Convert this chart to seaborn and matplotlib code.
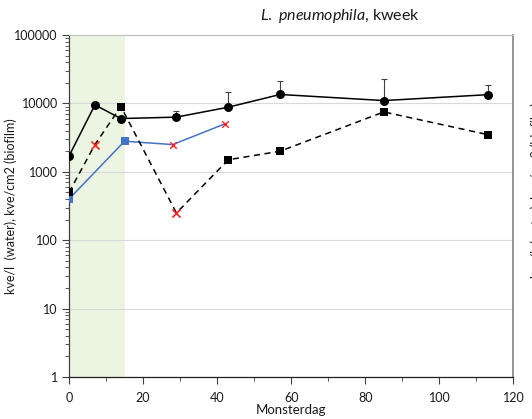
import numpy as np
import pandas as pd
import matplotlib
matplotlib.use("Agg")
import matplotlib.pyplot as plt
from matplotlib.ticker import FixedLocator, FuncFormatter, LogLocator, MultipleLocator, NullFormatter
import seaborn as sns

# --- data -------------------------------------------------------------
# total count, with upward standard deviation
dag_totaal = [0, 7, 14, 29, 43, 57, 85, 113]
kve_totaal = [1700, 9500, 6000, 6300, 8800, 13500, 11000, 13400]
sd_totaal = [np.nan, np.nan, np.nan, 1500, 6000, 8000, 11500, 5400]

# dashed series (squares; x = below detection limit)
dag_gestippeld = [0, 7, 14, 29, 43, 57, 85, 113]
kve_gestippeld = [500, 2500, 9000, 250, 1500, 2000, 7500, 3500]
teken_gestippeld = ["sq", "x", "sq", "x", "sq", "sq", "sq", "sq"]

# blue series
dag_blauw = [0, 15, 28, 42]
kve_blauw = [400, 2800, 2500, 5000]
teken_blauw = ["sq", "sq", "x", "x"]

# shaded start-up period
periode = (0, 15)

x_ticks = [0, 20, 40, 60, 80, 100, 120]
y_ticks = [1, 10, 100, 1000, 10000, 100000]

titel_cursief = "L.\\ pneumophila"
titel_rest = ", kweek"
x_label = "Monsterdag"
y_label = "kve/l  (water), kve/cm2 (biofilm)"

# --- style ------------------------------------------------------------
sns.set_style("white")
plt.rcParams["font.family"] = ["Lato", "DejaVu Sans"]
plt.rcParams["mathtext.fontset"] = "custom"
plt.rcParams["mathtext.it"] = "Lato:italic"
plt.rcParams["mathtext.rm"] = "Lato"

BLAUW = "#4472C4"
ROOD = "#FF2020"
TXT = "#1A1A1A"

fig = plt.figure(figsize=(5.32, 4.19), dpi=100)
ax_left, ax_right, ax_bottom, ax_top = 0.1297, 0.9652, 0.1002, 0.9165
ax = fig.add_axes([ax_left, ax_bottom, ax_right - ax_left, ax_top - ax_bottom])

ax.axvspan(*periode, color="#EBF5E1", zorder=0, lw=0)

df_tot = pd.DataFrame({"dag": dag_totaal, "kve": kve_totaal, "sd": sd_totaal})
df_stip = pd.DataFrame({"dag": dag_gestippeld, "kve": kve_gestippeld, "teken": teken_gestippeld})
df_blauw = pd.DataFrame({"dag": dag_blauw, "kve": kve_blauw, "teken": teken_blauw})

# lines
sns.lineplot(data=df_blauw, x="dag", y="kve", color=BLAUW, lw=1.1, ax=ax, zorder=3)
sns.lineplot(data=df_stip, x="dag", y="kve", color="black", lw=1.1, ax=ax, zorder=3)
ax.lines[-1].set_dashes((4, 3))
sns.lineplot(data=df_tot, x="dag", y="kve", color="black", lw=1.1, ax=ax, zorder=4)

# error bars (upward only)
m = df_tot["sd"].notna()
ax.errorbar(df_tot.loc[m, "dag"], df_tot.loc[m, "kve"],
            yerr=[np.zeros(m.sum()), df_tot.loc[m, "sd"]],
            fmt="none", ecolor="#404040", elinewidth=0.8, capsize=2.5, capthick=0.8, zorder=3)

# markers
sq = df_blauw[df_blauw["teken"] == "sq"]
xx = df_blauw[df_blauw["teken"] == "x"]
sns.scatterplot(data=sq, x="dag", y="kve", marker="s", color=BLAUW, s=28,
                linewidth=0, ax=ax, zorder=5)
sns.scatterplot(data=xx, x="dag", y="kve", marker="x", color=ROOD, s=22,
                linewidth=1.0, ax=ax, zorder=5)
sq = df_stip[df_stip["teken"] == "sq"]
xx = df_stip[df_stip["teken"] == "x"]
sns.scatterplot(data=sq, x="dag", y="kve", marker="s", color="black", s=40,
                linewidth=0, ax=ax, zorder=5)
sns.scatterplot(data=xx, x="dag", y="kve", marker="x", color=ROOD, s=34,
                linewidth=1.2, ax=ax, zorder=5)
sns.scatterplot(data=df_tot, x="dag", y="kve", marker="o", color="black", s=42,
                linewidth=0, ax=ax, zorder=6)

# axes
ax.set_yscale("log")
ax.set_ylim(1, 100000)
ax.set_xlim(0, 120)
ax.yaxis.set_major_locator(FixedLocator(y_ticks))
ax.yaxis.set_major_formatter(FuncFormatter(lambda v, p: f"{int(round(v))}"))
ax.yaxis.set_minor_locator(LogLocator(base=10, subs=np.arange(2, 10)))
ax.yaxis.set_minor_formatter(NullFormatter())
ax.xaxis.set_major_locator(FixedLocator(x_ticks))
ax.xaxis.set_minor_locator(MultipleLocator(10))

ax.grid(axis="y", which="major", color="#D9D9D9", lw=0.8, zorder=1)
ax.set_axisbelow(True)

ax.tick_params(axis="both", which="major", direction="out", length=5, width=0.8,
               color="#404040", labelsize=9, labelcolor=TXT, pad=3,
               left=True, bottom=True)
ax.tick_params(axis="both", which="minor", direction="out", length=3, width=0.6,
               color="#404040", left=True, bottom=True)
ax.tick_params(axis="x", which="major", pad=6)

for side, col, w in [("left", "#404040", 0.9), ("bottom", "#202020", 0.9),
                     ("top", "#BFBFBF", 0.8), ("right", "#8C8C8C", 1.3)]:
    ax.spines[side].set_visible(True)
    ax.spines[side].set_color(col)
    ax.spines[side].set_linewidth(w)

ax.set_xlabel("")
ax.set_ylabel("")
fig.text((ax_left + ax_right) / 2, 1 - 410 / 419, x_label, ha="center", va="center",
         fontsize=9.5, color=TXT)
fig.text(11 / 532, (ax_bottom + ax_top) / 2, y_label, rotation=90, ha="center",
         va="center", fontsize=9, color=TXT)

fig.text(0.639, 1 - 16 / 419, f"$\\it{{{titel_cursief}}}$" + titel_rest,
         ha="center", va="center", fontsize=11.5, color=TXT)
# partly visible label of the adjacent panel
fig.text(536.5 / 532, 1 - 190 / 419, y_label, rotation=90, ha="center", va="center",
         fontsize=9, color=TXT)

fig.savefig("out.png", dpi=100)
